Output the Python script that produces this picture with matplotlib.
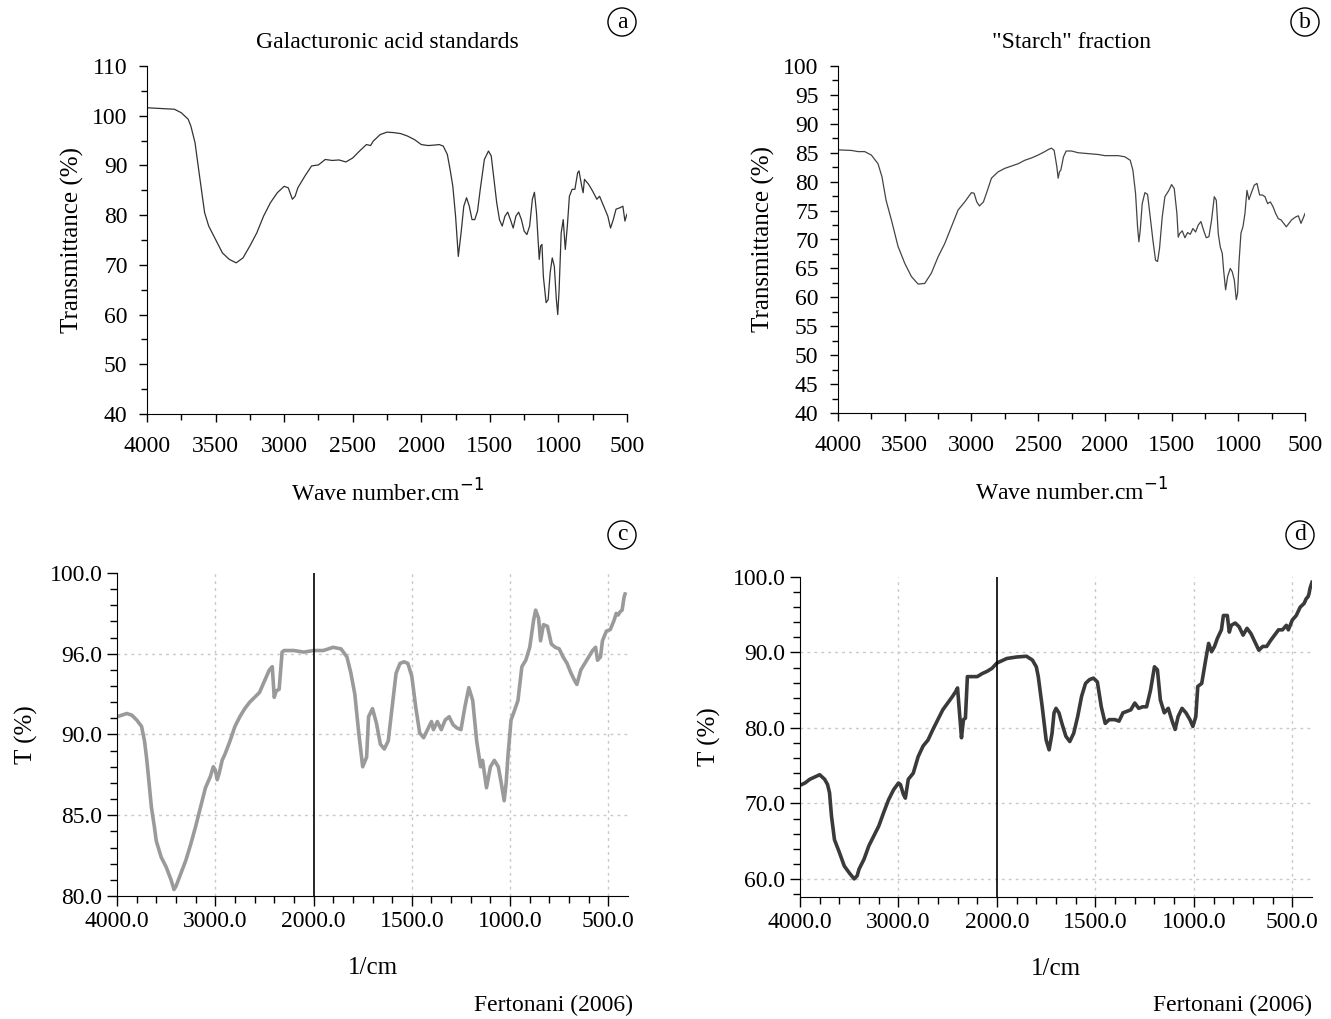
import numpy as np
import matplotlib.pyplot as plt
from matplotlib.ticker import MultipleLocator, FixedLocator, FixedFormatter

plt.rcParams['font.family'] = ['Liberation Serif', 'DejaVu Serif']
plt.rcParams['font.size'] = 17

# panel a - galacturonic acid standards
wn_a = [4000, 3800, 3750, 3700, 3680, 3650, 3620, 3600, 3580, 3550, 3500, 3450, 3400, 3350,
        3300, 3250, 3200, 3150, 3100, 3050, 3000, 2970, 2940, 2920, 2900, 2850, 2800, 2750,
        2700, 2650, 2600, 2550, 2500, 2450, 2400, 2370, 2350, 2300, 2250, 2200, 2150, 2100,
        2050, 2000, 1950, 1900, 1870, 1840, 1810, 1790, 1770, 1750, 1730, 1710, 1690, 1670,
        1650, 1630, 1610, 1590, 1570, 1540, 1510, 1490, 1470, 1450, 1430, 1410, 1390, 1370,
        1350, 1330, 1310, 1290, 1270, 1250, 1230, 1210, 1190, 1175, 1160, 1140, 1130, 1120,
        1110, 1090, 1075, 1060, 1045, 1030, 1015, 1005, 995, 980, 965, 950, 935, 920, 900,
        880, 860, 850, 830, 820, 810, 780, 750, 720, 700, 670, 640, 620, 600, 580, 550, 530,
        515, 505, 500]
t_a = [101.6, 101.3, 100.6, 99.3, 97.9, 94.6, 88.5, 84.5, 80.5, 77.8, 75.1, 72.4, 71.1, 70.4,
       71.4, 73.8, 76.4, 79.8, 82.5, 84.5, 85.8, 85.5, 83.2, 83.8, 85.5, 87.8, 89.9, 90.1,
       91.2, 91.0, 91.1, 90.7, 91.5, 92.9, 94.2, 94.0, 94.9, 96.2, 96.7, 96.6, 96.4, 95.9,
       95.2, 94.2, 94.0, 94.1, 94.2, 93.9, 92.2, 89.2, 85.8, 79.8, 71.7, 76.4, 81.8, 83.5,
       81.8, 79.1, 79.1, 80.8, 85.2, 91.2, 92.9, 91.9, 87.2, 82.5, 79.1, 77.8, 79.8, 80.6,
       79.1, 77.4, 79.8, 80.6, 79.1, 76.8, 76.1, 77.8, 83.2, 84.6, 80.5, 71.1, 73.8, 74.1,
       67.7, 62.4, 63.0, 68.5, 71.4, 69.7, 63.0, 60.0, 65.0, 76.4, 79.1, 73.1, 77.8, 83.8, 85.2,
       85.2, 88.5, 88.9, 85.8, 84.5, 87.2, 86.2, 84.8, 83.2, 83.8, 81.8, 79.8, 77.4, 79.1, 81.2,
       81.5, 81.8, 78.8, 79.8, 80.2]

# panel b - "starch" fraction
wn_b = [4000, 3900, 3850, 3800, 3750, 3720, 3700, 3670, 3640, 3600, 3550, 3500, 3450, 3400,
        3350, 3300, 3250, 3200, 3150, 3100, 3050, 3000, 2980, 2960, 2940, 2910, 2880, 2850,
        2800, 2750, 2700, 2650, 2600, 2550, 2500, 2450, 2420, 2400, 2380, 2360, 2350, 2340,
        2330, 2310, 2290, 2250, 2200, 2100, 2050, 2000, 1900, 1850, 1810, 1790, 1770, 1755,
        1745, 1735, 1720, 1700, 1680, 1660, 1640, 1620, 1605, 1590, 1570, 1550, 1520, 1500,
        1480, 1460, 1450, 1440, 1420, 1400, 1380, 1360, 1340, 1320, 1300, 1280, 1260, 1240,
        1220, 1200, 1180, 1165, 1150, 1135, 1120, 1110, 1095, 1080, 1060, 1045, 1030, 1015,
        1005, 995, 980, 965, 950, 935, 920, 900, 880, 860, 840, 820, 800, 780, 760, 740, 720,
        700, 680, 660, 640, 620, 600, 570, 550, 530, 510, 500]
t_b = [85.5, 85.4, 85.2, 85.2, 84.6, 83.7, 83.1, 80.8, 76.8, 73.4, 68.8, 65.9, 63.6, 62.3,
       62.4, 64.2, 67.0, 69.3, 72.2, 75.1, 76.5, 78.1, 78.0, 76.5, 75.8, 76.5, 78.5, 80.6,
       81.7, 82.3, 82.7, 83.1, 83.7, 84.1, 84.6, 85.2, 85.6, 85.8, 85.4, 82.6, 80.6, 81.7,
       82.0, 84.3, 85.3, 85.3, 85.0, 84.8, 84.7, 84.5, 84.5, 84.3, 83.7, 82.0, 78.0, 72.2,
       69.6, 71.6, 76.2, 78.1, 77.8, 73.9, 69.9, 66.4, 66.2, 68.5, 73.9, 77.4, 78.5, 79.5,
       78.8, 74.5, 70.4, 71.0, 71.5, 70.3, 71.2, 70.9, 71.9, 71.3, 72.5, 73.1, 71.6, 70.3,
       70.5, 73.4, 77.4, 76.8, 71.0, 68.7, 67.6, 64.7, 61.3, 63.6, 65.0, 64.4, 63.0, 59.6,
       60.7, 65.9, 71.1, 72.2, 74.5, 78.5, 76.9, 78.2, 79.4, 79.7, 77.7, 77.7, 77.4, 76.2, 76.5,
       75.7, 74.5, 73.6, 73.4, 72.8, 72.2, 72.8, 73.4, 73.9, 74.1, 72.8, 73.9, 74.5]

# panel c - Fertonani (2006), light gray
wn_c = [4000, 3950, 3900, 3850, 3800, 3750, 3720, 3700, 3680, 3650, 3620, 3600, 3550, 3500,
        3450, 3420, 3400, 3350, 3300, 3250, 3200, 3150, 3100, 3050, 3020, 3000, 2980, 2960,
        2930, 2900, 2850, 2800, 2750, 2700, 2650, 2600, 2550, 2500, 2450, 2420, 2400, 2380,
        2350, 2320, 2300, 2200, 2100, 2000, 1950, 1900, 1860, 1830, 1810, 1790, 1770, 1750,
        1730, 1720, 1700, 1680, 1660, 1640, 1620, 1600, 1580, 1560, 1540, 1520, 1500, 1480,
        1460, 1440, 1420, 1400, 1390, 1370, 1350, 1330, 1310, 1290, 1270, 1250, 1230, 1210,
        1190, 1170, 1150, 1140, 1120, 1100, 1080, 1060, 1045, 1030, 1020, 1010, 995, 980, 960,
        940, 920, 900, 880, 870, 855, 845, 830, 810, 790, 770, 750, 730, 710, 690, 670, 660,
        640, 620, 600, 580, 565, 555, 540, 530, 510, 490, 470, 460, 450, 440, 430, 420, 415]
t_c = [91.1, 91.2, 91.3, 91.2, 90.9, 90.5, 89.6, 88.6, 87.4, 85.5, 84.3, 83.4, 82.4, 81.8,
       81.0, 80.4, 80.6, 81.4, 82.2, 83.2, 84.3, 85.5, 86.7, 87.4, 88.0, 87.8, 87.2, 87.6,
       88.4, 88.8, 89.6, 90.5, 91.1, 91.6, 92.0, 92.3, 92.6, 93.3, 94.0, 94.2, 92.3, 92.7,
       92.8, 95.1, 95.2, 95.2, 95.1, 95.2, 95.2, 95.4, 95.3, 94.8, 93.8, 92.5, 90.1, 88.0,
       88.6, 91.1, 91.6, 90.7, 89.4, 89.1, 89.6, 91.7, 93.8, 94.4, 94.5, 94.4, 93.6, 91.7,
       90.1, 89.8, 90.3, 90.8, 90.3, 90.8, 90.3, 90.9, 91.1, 90.6, 90.4, 90.3, 91.7, 92.9,
       92.1, 89.6, 88.0, 88.4, 86.7, 88.0, 88.4, 88.0, 87.0, 85.9, 87.0, 88.8, 90.9, 91.4, 92.1,
       94.2, 94.6, 95.4, 97.1, 97.7, 97.2, 95.8, 96.8, 96.7, 95.6, 95.4, 95.3, 94.8, 94.4, 93.8,
       93.3, 93.1, 94.0, 94.4, 94.8, 95.2, 95.4, 94.6, 94.8, 95.8, 96.4, 96.5, 97.1, 97.5, 97.4,
       97.6, 97.7, 98.5, 98.7]

# panel d - Fertonani (2006), dark gray
wn_d = [4000, 3950, 3900, 3850, 3800, 3750, 3720, 3700, 3680, 3650, 3600, 3550, 3500, 3450,
        3420, 3400, 3350, 3300, 3250, 3200, 3150, 3100, 3050, 3000, 2980, 2950, 2930, 2900,
        2850, 2800, 2750, 2700, 2650, 2600, 2550, 2500, 2450, 2420, 2400, 2380, 2360, 2340,
        2320, 2300, 2250, 2200, 2150, 2100, 2050, 2000, 1950, 1900, 1850, 1820, 1800, 1790,
        1770, 1750, 1735, 1720, 1710, 1700, 1685, 1670, 1650, 1630, 1610, 1590, 1570, 1550,
        1530, 1510, 1490, 1470, 1450, 1430, 1400, 1380, 1360, 1340, 1320, 1300, 1280, 1260,
        1240, 1220, 1200, 1185, 1170, 1150, 1130, 1110, 1095, 1080, 1060, 1040, 1020, 1005,
        990, 980, 960, 940, 925, 910, 895, 880, 860, 850, 830, 820, 810, 790, 770, 750, 730,
        710, 690, 670, 650, 630, 610, 590, 570, 550, 530, 520, 500, 480, 460, 440, 430, 420,
        415, 410, 405, 400]
t_d = [72.4, 72.7, 73.2, 73.5, 73.8, 73.2, 72.5, 71.4, 68.3, 65.2, 63.5, 61.7, 60.8, 60.0,
       60.4, 61.3, 62.6, 64.4, 65.7, 67.0, 68.8, 70.5, 71.8, 72.7, 72.5, 71.2, 70.7, 73.2,
       74.0, 76.2, 77.6, 78.4, 79.8, 81.1, 82.4, 83.3, 84.2, 84.8, 85.3, 82.0, 78.7, 81.1,
       81.3, 86.8, 86.8, 86.8, 87.2, 87.5, 87.9, 88.6, 89.2, 89.4, 89.5, 89.0, 88.1, 86.8,
       82.8, 78.4, 77.1, 79.3, 82.0, 82.6, 82.0, 80.6, 78.9, 78.2, 79.3, 81.5, 84.2, 85.9,
       86.4, 86.6, 86.1, 82.8, 80.6, 81.1, 81.1, 80.9, 82.0, 82.2, 82.4, 83.3, 82.6, 82.8,
       82.8, 85.0, 88.1, 87.7, 83.7, 82.0, 82.6, 80.9, 79.8, 81.5, 82.6, 82.0, 81.1, 80.2,
       81.5, 85.5, 85.9, 89.0, 91.2, 90.1, 90.8, 91.9, 93.0, 94.9, 94.9, 92.7, 93.6, 93.9,
       93.4, 92.3, 93.2, 92.5, 91.4, 90.3, 90.8, 90.8, 91.6, 92.3, 93.0, 93.0, 93.6, 93.0,
       94.3, 94.9, 96.0, 96.5, 97.1, 97.4, 97.8, 98.5, 98.9, 99.3]

c_ticks = [80, 85, 90, 95, 100]
c_labels = ['80.0', '85.0', '90.0', '96.0', '100.0']
d_ticks = [60, 70, 80, 90, 100]
x_ticks_cd = [4000, 3000, 2000, 1500, 1000, 500]


# wavenumber axis that changes scale at 2000 1/cm
def fwd(x):
    x = np.asarray(x, dtype=float)
    return np.where(x >= 2000, x / 1000.0, x / 500.0 - 2.0)


def inv(t):
    t = np.asarray(t, dtype=float)
    return np.where(t >= 2, t * 1000.0, (t + 2.0) * 500.0)


W, H = 1331, 1019
fig = plt.figure(figsize=(W / 100, H / 100), dpi=100)


def box(l, t, r, b):
    return [l / W, 1 - b / H, (r - l) / W, (b - t) / H]


def circled(x, y, s):
    fig.text(x / W, 1 - y / H, s, ha='center', va='center', fontsize=17,
             bbox=dict(boxstyle='circle,pad=0.15', fc='white', ec='black', lw=1))


def top_style(ax):
    for s in ['top', 'right']:
        ax.spines[s].set_visible(False)
    ax.tick_params(which='both', direction='out', width=1)
    ax.tick_params(which='major', length=6, labelsize=17)
    ax.tick_params(which='minor', length=4)
    ax.tick_params(axis='x', which='major', pad=10)
    ax.tick_params(axis='y', which='major', pad=8)


# a
ax = fig.add_axes(box(147, 66, 627, 414))
ax.plot(wn_a, t_a, color='#333333', lw=0.9)
ax.set_xlim(4000, 500)
ax.set_ylim(40, 110)
ax.xaxis.set_major_locator(MultipleLocator(500))
ax.xaxis.set_minor_locator(MultipleLocator(250))
ax.yaxis.set_major_locator(MultipleLocator(10))
ax.yaxis.set_minor_locator(MultipleLocator(5))
top_style(ax)
ax.set_title('Galacturonic acid standards', fontsize=17, pad=13)
ax.set_ylabel('Transmittance (%)', fontsize=18, labelpad=6)
ax.set_xlabel('Wave number.cm$^{-1}$', fontsize=17, labelpad=16)

# b
ax = fig.add_axes(box(838, 66, 1305, 413))
ax.plot(wn_b, t_b, color='#444444', lw=0.9)
ax.set_xlim(4000, 500)
ax.set_ylim(40, 100)
ax.xaxis.set_major_locator(MultipleLocator(500))
ax.xaxis.set_minor_locator(MultipleLocator(250))
ax.yaxis.set_major_locator(MultipleLocator(5))
ax.yaxis.set_minor_locator(MultipleLocator(2.5))
top_style(ax)
ax.set_title('"Starch" fraction', fontsize=17, pad=13)
ax.set_ylabel('Transmittance (%)', fontsize=18, labelpad=6)
ax.set_xlabel('Wave number.cm$^{-1}$', fontsize=17, labelpad=16)


def bottom_style(ax, yt, yl, ymin, ymax, yminor):
    ax.set_xscale('function', functions=(fwd, inv))
    ax.set_xlim(4000, 400)
    ax.set_ylim(ymin, ymax)
    minors = list(range(3800, 2000, -200)) + list(range(1900, 400, -100))
    minors = [m for m in minors if m not in x_ticks_cd]
    ax.xaxis.set_major_locator(FixedLocator(x_ticks_cd))
    ax.xaxis.set_major_formatter(FixedFormatter(['%.1f' % v for v in x_ticks_cd]))
    ax.xaxis.set_minor_locator(FixedLocator(minors))
    ax.yaxis.set_major_locator(FixedLocator(yt))
    ax.yaxis.set_major_formatter(FixedFormatter(yl))
    ax.yaxis.set_minor_locator(MultipleLocator(yminor))
    for s in ['top', 'right']:
        ax.spines[s].set_visible(False)
    ax.tick_params(which='both', direction='out', width=1)
    ax.tick_params(which='major', length=7, labelsize=17)
    ax.tick_params(which='minor', length=5)
    for v in [3000, 1500, 1000, 500]:
        ax.axvline(v, color='#c8c8c8', lw=1, ls=(0, (2, 3)), zorder=0)
    for v in yt[:-1]:
        if v > ymin:
            ax.axhline(v, color='#c8c8c8', lw=1, ls=(0, (2, 3)), zorder=0)
    ax.axvline(2000, color='black', lw=1.2)
    ax.set_ylabel('T (%)', fontsize=18, labelpad=8)
    ax.set_xlabel('1/cm', fontsize=18, labelpad=18)


# c
ax = fig.add_axes(box(117, 573, 628, 896))
ax.plot(wn_c, t_c, color='#9a9a9a', lw=2.6)
bottom_style(ax, c_ticks, c_labels, 80, 100, 1)

# d
ax = fig.add_axes(box(800, 577, 1312, 897))
ax.plot(wn_d, t_d, color='#3a3a3a', lw=2.6)
bottom_style(ax, d_ticks, ['%.1f' % v for v in d_ticks], 57.6, 100, 2)

circled(622, 22, 'a')
circled(1305, 22, 'b')
circled(622, 535, 'c')
circled(1300, 535, 'd')
fig.text(633 / W, 1 - 1005 / H, 'Fertonani (2006)', ha='right', va='center', fontsize=17)
fig.text(1312 / W, 1 - 1005 / H, 'Fertonani (2006)', ha='right', va='center', fontsize=17)

fig.savefig('out.png', dpi=100)
